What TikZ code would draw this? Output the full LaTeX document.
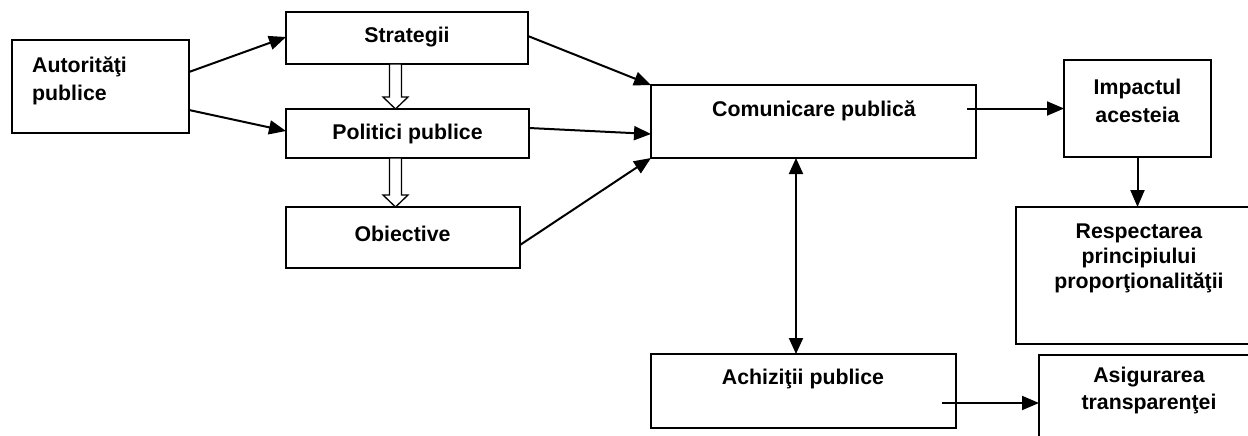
\documentclass[tikz,border=0pt]{standalone}
\usepackage{fontspec}
\setmainfont{Liberation Sans}
\usetikzlibrary{arrows.meta,calc}
\newcommand\hollowdown[2]{%
  \draw[hollow] let \p1=(#1), \p2=(#2) in
    (\x1-6pt,\y1) -- (\x1-6pt,\y2+12pt) -- (\x1-12.5pt,\y2+12pt) -- (\x1,\y2)
    -- (\x1+12.5pt,\y2+12pt) -- (\x1+6pt,\y2+12pt) -- (\x1+6pt,\y1) -- cycle;}
\begin{document}
\begin{tikzpicture}[x=1pt,y=-1pt,
  box/.style={draw, line width=1.8pt, inner sep=0pt, outer sep=0pt, anchor=north west},
  txt/.style={font=\fontsize{21.3}{27}\selectfont\bfseries, align=center, inner sep=0pt},
  conn/.style={line width=2pt, -{Triangle[length=17pt,width=14pt]}},
  dconn/.style={line width=2pt, {Triangle[length=16pt,width=14pt]}-{Triangle[length=16pt,width=14pt]}},
  hollow/.style={draw, line width=1.3pt, fill=white, line join=miter}]
\useasboundingbox (0,0) rectangle (1248,436);
\clip (0,0) rectangle (1248,436);
\fill[white] (0,0) rectangle (1248,436);

% boxes
\node[box, minimum width=177pt, minimum height=93pt] (aut) at (12,40) {};
\node[box, minimum width=242pt, minimum height=52pt] (str) at (286,12) {};
\node[box, minimum width=243pt, minimum height=49pt] (pol) at (286,109) {};
\node[box, minimum width=234pt, minimum height=61pt] (obi) at (286,207) {};
\node[box, minimum width=325pt, minimum height=73pt] (com) at (651,85) {};
\node[box, minimum width=147pt, minimum height=97pt] (imp) at (1064,60) {};
\node[box, minimum width=254pt, minimum height=137pt] (res) at (1016,207) {};
\node[box, minimum width=305pt, minimum height=74pt] (ach) at (651,354) {};
\node[box, minimum width=231pt, minimum height=105pt] (asi) at (1039,355) {};

% texts
\node[txt, align=left, anchor=west, font=\fontsize{21.3}{28}\selectfont\bfseries] (tAut) at (32,81) {Autorităţi\\publice};
\node[txt] (tStr) at (407,37) {Strategii};
\node[txt] (tPol) at (407.5,134) {Politici publice};
\node[txt] (tObi) at (402.5,234) {Obiective};
\node[txt] (tCom) at (814,110.5) {Comunicare publică};
\node[txt, font=\fontsize{21.3}{28}\selectfont\bfseries] (tImp) at (1137.5,100.5) {Impactul\\acesteia};
\node[txt, font=\fontsize{21.3}{25}\selectfont\bfseries] (tRes) at (1139,258.5) {Respectarea\\principiului\\proporţionalităţii};
\node[txt] (tAch) at (803,379) {Achiziţii publice};
\node[txt] (tAsi) at (1149,390.5) {Asigurarea\\transparenţei};

% hollow arrows
\coordinate (h1) at ($(str.south west)+(109.5,0)$);
\coordinate (h2) at ($(pol.south west)+(109.5,0)$);
\hollowdown{h1}{h1 |- pol.north}
\hollowdown{h2}{h2 |- obi.north}

% connectors
\draw[conn] ($(aut.north east)+(0,32)$) -- ($(str.north west)+(0,25)$);
\draw[conn] ($(aut.north east)+(0,70)$) -- ($(pol.north west)+(0,22)$);
\draw[conn] ($(str.north east)+(0,24)$) -- (com.north west);
\draw[conn] ($(pol.north east)+(0,19)$) -- ($(com.north west)+(0,49)$);
\draw[conn] ($(obi.north east)+(0,38)$) -- (com.south west);
\coordinate (cout) at ($(com.east |- imp.west)+(-9,0)$);
\draw[conn] (cout) -- (imp.west);
\draw[conn] (imp.south) -- (imp.south |- res.north);
\draw[dconn] ($(com.south west)+(145,0)$) -- ($(ach.north west)+(145,0)$);
\coordinate (aout) at ($(ach.east)+(-14,12)$);
\draw[conn] (aout) -- (aout -| asi.west);
\end{tikzpicture}
\end{document}
